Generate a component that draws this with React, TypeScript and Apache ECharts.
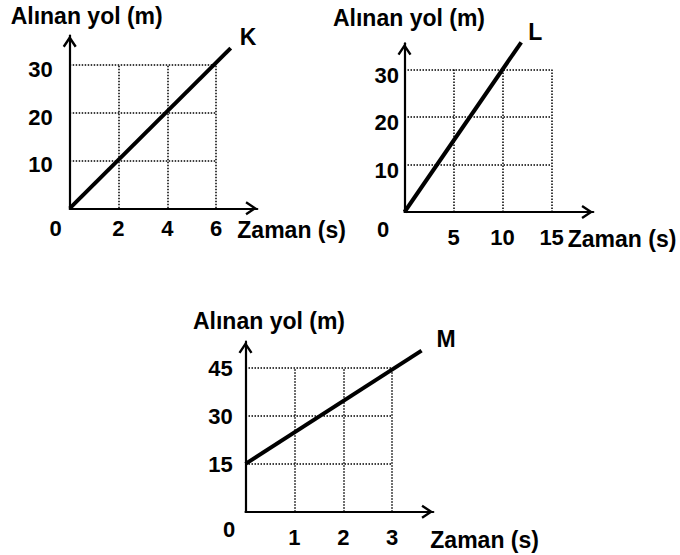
import { useEffect, useRef } from 'react';
import * as echarts from 'echarts';

const FONT = '"Liberation Sans", Arial, Helvetica, sans-serif';

// ---- Data: graph K ----
const kLine = [[0, 0], [6.6, 33.5]];
const kXTicks = [2, 4, 6];
const kYTicks = [10, 20, 30];

// ---- Data: graph L ----
const lLine = [[0, 0], [11.9, 35.7]];
const lXTicks = [5, 10, 15];
const lYTicks = [10, 20, 30];

// ---- Data: graph M ----
const mLine = [[0, 15], [3.6, 50.5]];
const mXTicks = [1, 2, 3];
const mYTicks = [15, 30, 45];

const yTitle = 'Alınan yol (m)';
const xTitle = 'Zaman (s)';

const ARROW = 'path://M7,0 L14,10.5 L12,11.8 L7,4.3 L2,11.8 L0,10.5 Z';

type Panel = {
  name: string;
  data: number[][];
  xTicks: number[];
  yTicks: number[];
  grid: { left: number; top: number; width: number; height: number };
  xMax: number;
  yMax: number;
  xInt: number;
  yInt: number;
  endOffset: [number, number];
  xLabelMargin: number;
  zeroPad: number[];
  yLabelMargin: number;
  yLabelPadTop: number;
  xNameGap: number;
  xNamePadTop: number;
  yNameGap: number;
  yNamePadLeft: number;
};

const panels: Panel[] = [
  {
    name: 'K', data: kLine, xTicks: kXTicks, yTicks: kYTicks,
    grid: { left: 69.7, top: 35.5, width: 187.6, height: 172.8 },
    xMax: 7.69, yMax: 36.15, xInt: 2, yInt: 10,
    endOffset: [9, -11], xLabelMargin: 20, zeroPad: [0, 28, 0, 0],
    yLabelMargin: 17, yLabelPadTop: 9,
    xNameGap: -20, xNamePadTop: 43, yNameGap: 20, yNamePadLeft: 34,
  },
  {
    name: 'L', data: lLine, xTicks: lXTicks, yTicks: lYTicks,
    grid: { left: 404.5, top: 43.3, width: 188.8, height: 168.7 },
    xMax: 19.25, yMax: 35.5, xInt: 5, yInt: 10,
    endOffset: [7, -10], xLabelMargin: 25.5, zeroPad: [0, 43, 17, 0],
    yLabelMargin: 5.5, yLabelPadTop: 12,
    xNameGap: -40, xNamePadTop: 54, yNameGap: 25, yNamePadLeft: 9,
  },
  {
    name: 'M', data: mLine, xTicks: mXTicks, yTicks: mYTicks,
    grid: { left: 245.5, top: 341.7, width: 187.8, height: 170 },
    xMax: 3.84, yMax: 53.3, xInt: 1, yInt: 15,
    endOffset: [15, -12], xLabelMargin: 25.8, zeroPad: [0, 33, 17, 0],
    yLabelMargin: 12.8, yLabelPadTop: 1,
    xNameGap: -3, xNamePadTop: 57, yNameGap: 21, yNamePadLeft: 47,
  },
];

const txt = { fontFamily: FONT, fontWeight: 'bold' as const, color: '#000' };

function buildOption() {
  const grid: any[] = [];
  const xAxis: any[] = [];
  const yAxis: any[] = [];
  const series: any[] = [];
  panels.forEach((p, i) => {
    grid.push({ ...p.grid, containLabel: false });
    const xTop = p.xTicks[p.xTicks.length - 1];
    const yTopV = p.yTicks[p.yTicks.length - 1];
    const axisLine = {
      show: true, onZero: false, symbol: ['none', ARROW], symbolSize: [14, 12], symbolOffset: [0, -6],
      lineStyle: { color: '#000', width: 2.2 },
    };
    xAxis.push({
      gridIndex: i, type: 'value', min: 0, max: p.xMax, interval: p.xInt,
      axisLine,
      axisTick: { show: false },
      splitLine: { show: false },
      axisLabel: {
        ...txt, fontSize: 22, margin: p.xLabelMargin, verticalAlign: 'middle',
        formatter: (v: number) => (v === 0 ? '{z|0}' : p.xTicks.includes(v) ? '{n|' + v + '}' : ''),
        rich: {
          z: { ...txt, fontSize: 22, padding: p.zeroPad },
          n: { ...txt, fontSize: 22 },
        },
      },
      name: '{t|' + xTitle + '}', nameLocation: 'end', nameGap: p.xNameGap,
      nameTextStyle: {
        ...txt, fontSize: 23, align: 'left', verticalAlign: 'middle',
        rich: { t: { ...txt, fontSize: 23, padding: [p.xNamePadTop, 0, 0, 0] } },
      },
    });
    yAxis.push({
      gridIndex: i, type: 'value', min: 0, max: p.yMax, interval: p.yInt,
      axisLine,
      axisTick: { show: false },
      splitLine: { show: false },
      axisLabel: {
        ...txt, fontSize: 22, margin: p.yLabelMargin, verticalAlign: 'middle',
        formatter: (v: number) => (p.yTicks.includes(v) ? '{n|' + v + '}' : ''),
        rich: { n: { ...txt, fontSize: 22, padding: [p.yLabelPadTop, 0, 0, 0] } },
      },
      name: yTitle, nameLocation: 'end', nameGap: p.yNameGap,
      nameTextStyle: { ...txt, fontSize: 23, align: 'center', verticalAlign: 'middle', padding: [0, 0, 0, p.yNamePadLeft] },
    });
    const gridLines: any[] = [];
    p.xTicks.forEach((x) => gridLines.push([{ coord: [x, 0] }, { coord: [x, yTopV] }]));
    p.yTicks.forEach((y) => gridLines.push([{ coord: [0, y] }, { coord: [xTop, y] }]));
    series.push({
      type: 'line', xAxisIndex: i, yAxisIndex: i, data: p.data, z: 10,
      symbol: 'none', clip: false, silent: true,
      lineStyle: { color: '#000', width: 4 },
      endLabel: {
        show: true, formatter: p.name, distance: 0, offset: p.endOffset,
        ...txt, fontSize: 23, align: 'left', verticalAlign: 'middle',
      },
      markLine: {
        silent: true, symbol: ['none', 'none'], label: { show: false },
        lineStyle: { type: [1.5, 1.5], color: '#000', width: 1.5 },
        emphasis: { disabled: true },
        data: gridLines,
      },
    });
  });
  return {
    animation: false,
    backgroundColor: '#fff',
    grid, xAxis, yAxis, series,
  };
}

export default function App() {
  const ref = useRef<HTMLDivElement>(null);
  useEffect(() => {
    if (!ref.current) return;
    const chart = echarts.init(ref.current, undefined, { renderer: 'svg' });
    chart.setOption(buildOption() as any);
    return () => chart.dispose();
  }, []);
  return (
    <div
      ref={ref}
      style={{ position: 'absolute', left: 0, top: 0, width: 680, height: 555 }}
    />
  );
}
